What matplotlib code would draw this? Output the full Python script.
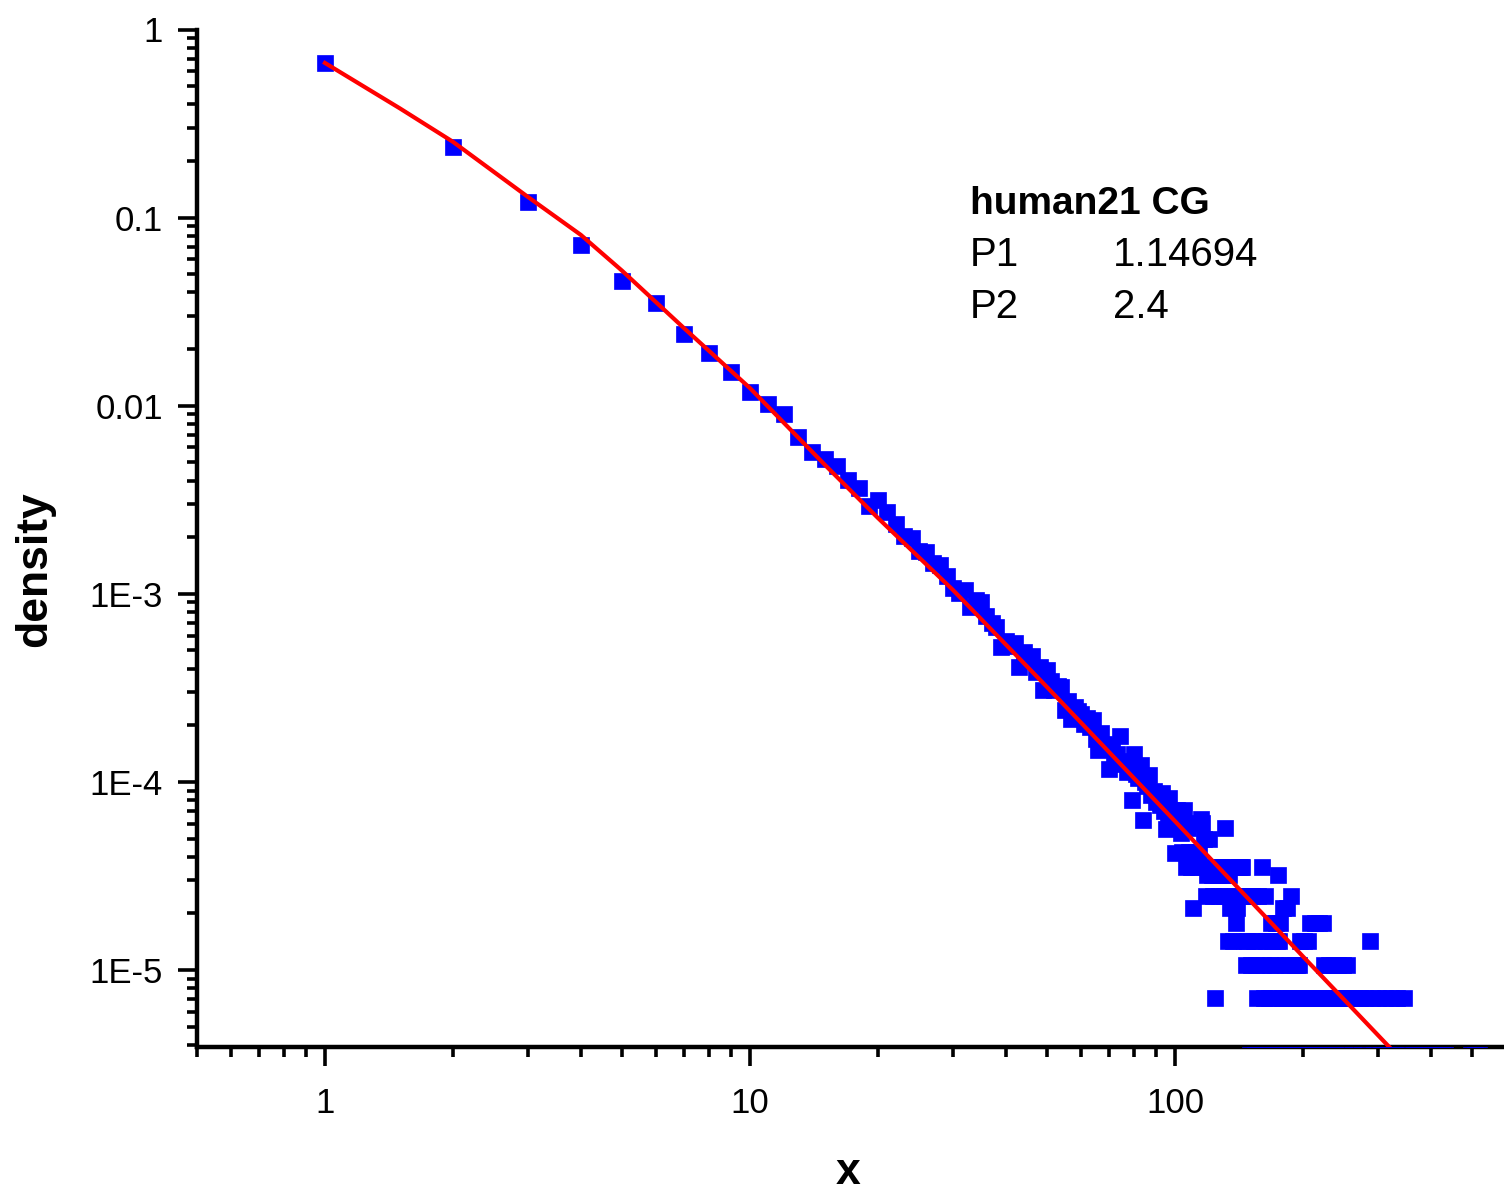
import matplotlib
matplotlib.use('Agg')
import matplotlib.pyplot as plt
from matplotlib.ticker import FixedLocator, FixedFormatter, LogLocator, NullFormatter

plt.rcParams['font.family'] = ['Liberation Sans', 'DejaVu Sans']

x_head = list(range(1, 102))
dens_head = [
    0.664, 0.236, 0.121, 0.0715, 0.0462, 0.035, 0.0241, 0.0191, 0.0152, 0.0118,
    0.0102, 0.0090, 0.00684, 0.00567, 0.00522, 0.0048, 0.00404, 0.00365, 0.00294, 0.00315,
    0.00272, 0.00235, 0.00203, 0.00199, 0.00169, 0.00166, 0.00146, 0.00142, 0.00125, 0.00108,
    0.00101, 0.00105, 0.00085, 0.00093, 0.00091, 0.00076, 0.00070, 0.00067, 0.00052, 0.00056,
    0.00053, 0.000547, 0.00041, 0.00049, 0.00045, 0.000465, 0.000384, 0.00041, 0.000307, 0.000395,
    0.000343, 0.00031, 0.000322, 0.00032, 0.00024, 0.000268, 0.000215, 0.00025, 0.000239, 0.00023,
    0.000204, 0.00022, 0.000195, 0.000214, 0.00017, 0.000147, 0.000182, 0.00016, 0.000155, 0.000117,
    0.00015, 0.000135, 0.00014, 0.000175, 0.00013, 0.000125, 0.000113, 0.00012, 7.98e-5, 0.00014,
    0.00011, 0.000105, 0.000123, 6.27e-5, 0.0001, 9.5e-5, 0.000109, 8.5e-5, 9.0e-5, 7.8e-5,
    8.2e-5, 7.5e-5, 8.73e-5, 7.0e-5, 5.65e-5, 6.5e-5, 8.2e-5, 6.0e-5, 6.4e-5, 4.19e-5,
    7.1e-5,
]

# tail: counts per x (density = count * unit)
count_unit = 3.55e-6
x_tail = [
    102, 103, 104, 105, 106, 107, 108, 109, 110, 111, 112, 113, 114, 115, 116, 117, 118, 119, 120,
    121, 122, 123, 124, 125, 126, 127, 128, 129, 130, 131, 132, 133, 134, 135, 136, 137, 138, 139,
    140, 141, 142, 143, 144, 145, 146, 147, 148, 149, 150, 151, 152, 153, 154, 155, 156, 157, 158,
    159, 160, 161, 162, 163, 164, 165, 166, 167, 168, 169, 170, 171, 172, 173, 174, 175, 176, 177,
    178, 179, 180, 181, 182, 183, 184, 185, 186, 187, 188, 190, 191, 193, 194, 196, 197, 198, 199,
    201, 203, 205, 206, 208, 209, 210, 212, 213, 215, 217, 218, 220, 221, 223, 224, 226, 228, 230,
    233, 236, 238, 240, 242, 245, 248, 250, 251, 254, 258, 262, 265, 272, 275, 280, 288, 290, 293,
    300, 305, 311, 318, 322, 330, 333, 345, 350, 365, 380, 395, 410, 425, 432, 496, 508, 520,
]
counts_tail = [
    18, 15, 12, 20, 10, 16, 12, 10, 6, 17, 12, 10, 12, 18, 17, 14, 7, 9, 14,
    10, 9, 7, 2, 10, 9, 7, 10, 9, 7, 16, 10, 4, 9, 6, 10, 4, 7, 5,
    6, 10, 7, 10, 10, 4, 7, 3, 4, 7, 1, 3, 7, 4, 1, 3, 2, 7, 4,
    1, 10, 3, 2, 7, 4, 1, 2, 3, 5, 4, 2, 1, 3, 5, 4, 9, 4, 5,
    2, 6, 1, 3, 2, 6, 1, 3, 2, 7, 1, 2, 3, 1, 3, 3, 4, 2, 1,
    4, 2, 4, 2, 5, 1, 2, 1, 5, 2, 1, 5, 2, 1, 5, 3, 2, 1, 3,
    2, 3, 1, 2, 3, 2, 3, 1, 2, 3, 2, 1, 2, 2, 1, 2, 4, 2, 1,
    2, 1, 2, 1, 2, 1, 2, 2, 1, 1, 1, 1, 1, 1, 1, 1, 1, 1,
]

# fitted curve
fit_x = [1, 1.5, 2, 3, 4, 5, 7, 10, 15, 20, 30, 50, 100, 200, 330]
fit_y = [0.664, 0.381, 0.253, 0.129, 0.0809, 0.0522, 0.0258, 0.0124, 0.00485,
         0.00253, 0.00105, 3.19e-4, 6.18e-5, 1.18e-5, 3.6e-6]

y_ticks = [1, 0.1, 0.01, 1e-3, 1e-4, 1e-5]
y_labels = ['1', '0.1', '0.01', '1E-3', '1E-4', '1E-5']
x_ticks = [1, 10, 100]
x_labels = ['1', '10', '100']


def main():
    W, H = 1504, 1193
    fig = plt.figure(figsize=(W / 100, H / 100), dpi=100)
    ax = fig.add_axes([197 / W, (H - 1047) / H, (W - 197) / W, (1047 - 29.5) / H])

    xs = x_head + x_tail
    ys = dens_head + [c * count_unit for c in counts_tail]
    ax.plot(xs, ys, ls='none', marker='s', ms=11.5, mfc='#0000ff', mec='#0000ff',
            mew=0.5, zorder=3)
    ax.plot(fit_x, fit_y, color='#ff0000', lw=3.0, zorder=4)

    ax.set_xscale('log')
    ax.set_yscale('log')
    ax.set_xlim(0.5, 594)
    ax.set_ylim(3.9e-6, 1)

    for side in ('top', 'right'):
        ax.spines[side].set_visible(False)
    for side in ('left', 'bottom'):
        ax.spines[side].set_linewidth(3.2)

    ax.yaxis.set_major_locator(FixedLocator(y_ticks))
    ax.yaxis.set_major_formatter(FixedFormatter(y_labels))
    ax.xaxis.set_major_locator(FixedLocator(x_ticks))
    ax.xaxis.set_major_formatter(FixedFormatter(x_labels))
    ax.yaxis.set_minor_locator(LogLocator(base=10, subs=range(2, 10), numticks=20))
    ax.xaxis.set_minor_locator(LogLocator(base=10, subs=range(2, 10), numticks=20))
    ax.yaxis.set_minor_formatter(NullFormatter())
    ax.xaxis.set_minor_formatter(NullFormatter())

    ax.tick_params(which='major', direction='out', length=13.5, width=2.6, labelsize=25)
    ax.tick_params(which='minor', direction='out', length=7.2, width=2.6)
    ax.tick_params(axis='y', which='major', pad=11)
    ax.tick_params(axis='x', which='major', pad=15)

    fig.text(35 / W, 1 - 569 / H, 'density', rotation=90, ha='center', va='center',
             fontsize=32, fontweight='bold')
    fig.text(848 / W, 1 - 1172 / H, 'x', ha='center', va='center',
             fontsize=32, fontweight='bold')

    fig.text(970 / W, 1 - 214 / H, 'human21 CG', ha='left', va='baseline',
             fontsize=28, fontweight='bold')
    fig.text(970 / W, 1 - 266 / H, 'P1', ha='left', va='baseline', fontsize=29)
    fig.text(1113 / W, 1 - 266 / H, '1.14694', ha='left', va='baseline', fontsize=29)
    fig.text(970 / W, 1 - 318 / H, 'P2', ha='left', va='baseline', fontsize=29)
    fig.text(1113 / W, 1 - 318 / H, '2.4', ha='left', va='baseline', fontsize=29)

    fig.savefig('out.png', dpi=100)


if __name__ == '__main__':
    main()
